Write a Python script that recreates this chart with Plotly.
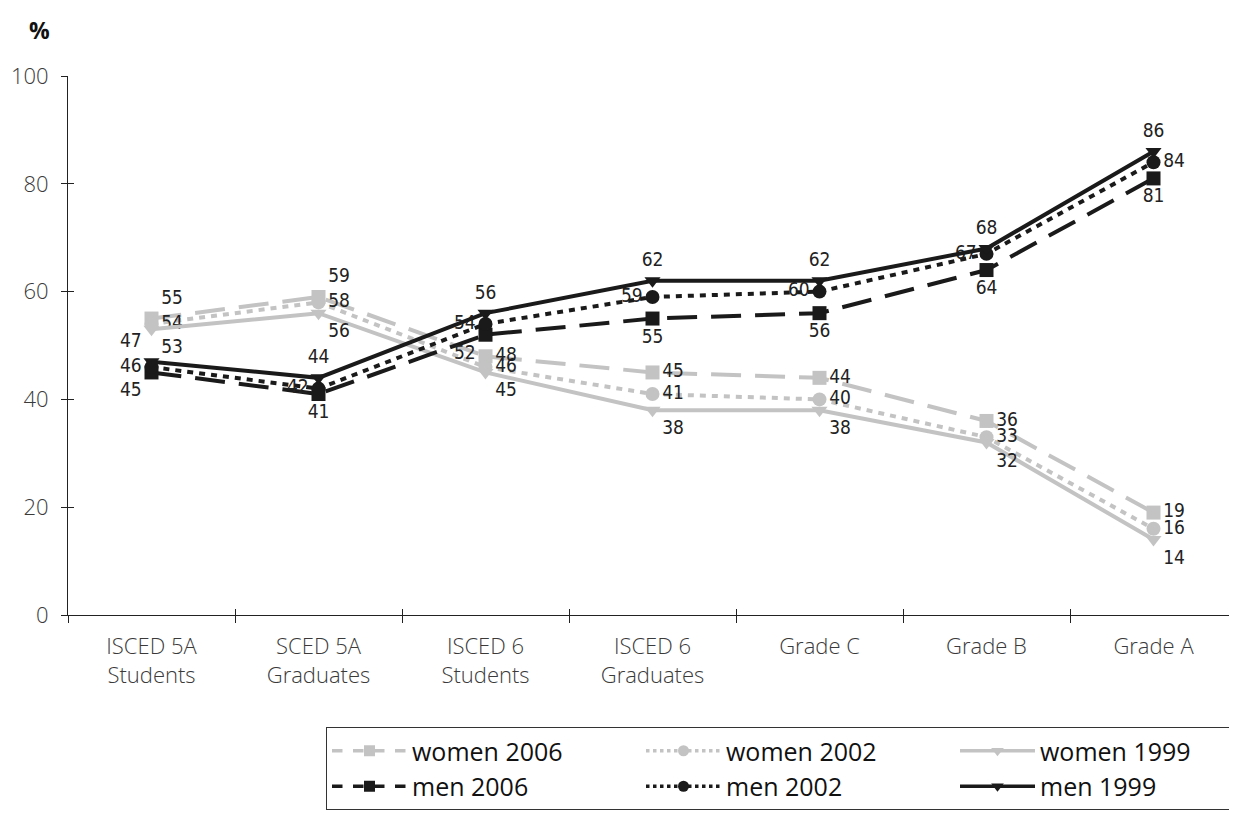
import plotly.graph_objects as go

categories = ["ISCED 5A<br>Students", "SCED 5A<br>Graduates", "ISCED 6<br>Students",
              "ISCED 6<br>Graduates", "Grade C", "Grade B", "Grade A"]

women_2006 = [55, 59, 48, 45, 44, 36, 19]
women_2002 = [54, 58, 46, 41, 40, 33, 16]
women_1999 = [53, 56, 45, 38, 38, 32, 14]
men_2006 = [45, 41, 52, 55, 56, 64, 81]
men_2002 = [46, 42, 54, 59, 60, 67, 84]
men_1999 = [47, 44, 56, 62, 62, 68, 86]

GREY = "#c3c3c3"
BLACK = "#1a1a1a"
LBL_FONT = dict(family="Liberation Sans Narrow, DejaVu Sans Condensed, Roboto, sans-serif",
                size=19, color="#222")
TICK_FONT = dict(family="Open Sans, sans-serif", size=22, color="#3a3a3a", weight=300)
DASH = "30px,14px"
DOT = "6px,6px"

series = [
    ("women 2006", women_2006, GREY, DASH, "dash", "square",
     ["top right", "top right", "middle right", "middle right", "middle right", "middle right", "middle right"]),
    ("women 2002", women_2002, GREY, DOT, "dot", "circle",
     ["middle right"] * 7),
    ("women 1999", women_1999, GREY, "solid", "solid", "triangle-down",
     ["bottom right"] * 7),
    ("men 2006", men_2006, BLACK, DASH, "dash", "square",
     ["bottom left", "bottom center", "bottom left", "bottom center", "bottom center", "bottom center", "bottom center"]),
    ("men 2002", men_2002, BLACK, DOT, "dot", "circle",
     ["middle left", "middle left", "middle left", "middle left", "middle left", "middle left", "middle right"]),
    ("men 1999", men_1999, BLACK, "solid", "solid", "triangle-down",
     ["top left", "top center", "top center", "top center", "top center", "top center", "top center"]),
]

fig = go.Figure()
for name, vals, col, dash, _, sym, pos in series:
    fig.add_trace(go.Scatter(
        x=categories, y=vals, name=name, mode="lines+markers+text",
        text=[str(v) for v in vals], textposition=pos, textfont=LBL_FONT,
        line=dict(color=col, width=4, dash=dash),
        marker=dict(symbol=sym, size=14, color=col),
        cliponaxis=False, showlegend=False,
    ))

# legend entries (no data drawn) with the short-dash look of the original key
for name, vals, col, _, ldash, sym, _ in series:
    fig.add_trace(go.Scatter(
        x=[None], y=[None], name=name, mode="lines+markers",
        line=dict(color=col, width=3.5, dash=ldash),
        marker=dict(symbol=sym, size=11, color=col), showlegend=True,
    ))

# invisible trace on overlay axes that carry the inward half of the crossing ticks
fig.add_trace(go.Scatter(x=categories, y=men_1999, xaxis="x2", yaxis="y2", mode="markers",
                         marker=dict(opacity=0), showlegend=False, hoverinfo="skip"))

fig.update_layout(
    width=1229, height=809,
    margin=dict(l=60, r=0, t=68, b=202),
    plot_bgcolor="white", paper_bgcolor="white",
    font=dict(family="Open Sans, sans-serif", color="#333"),
    showlegend=True,
    legend=dict(
        orientation="h", xref="container", yref="container",
        x=318 / 1229, xanchor="left", y=1 - 719 / 809, yanchor="top",
        bordercolor="#333", borderwidth=1, bgcolor="white",
        font=dict(family="Open Sans, sans-serif", size=25, color="#111"),
        itemwidth=75, entrywidth=224, traceorder="normal",
    ),
    annotations=[dict(text="<b>%</b>", x=-0.024, y=1.085, xref="paper", yref="paper",
                      xanchor="center", yanchor="middle", showarrow=False,
                      font=dict(size=23, color="#111", family="Open Sans, sans-serif"))],
    xaxis=dict(type="category", range=[-0.5, 6.5], showline=True, linecolor="#222",
               linewidth=1, ticks="outside", tickson="boundaries", ticklen=7,
               tickcolor="#222", showgrid=False, tickfont=TICK_FONT, automargin=False,
               ticklabelstandoff=12),
    yaxis=dict(range=[0, 100], dtick=20, showline=True, linecolor="#222", linewidth=1,
               ticks="outside", ticklen=6, tickcolor="#222", showgrid=False, zeroline=False,
               tickfont=TICK_FONT, automargin=False, ticklabelstandoff=8),
    xaxis2=dict(type="category", range=[-0.5, 6.5], overlaying="x", anchor="y2",
                showline=False, ticks="inside", tickson="boundaries", ticklen=6,
                tickcolor="#222", showgrid=False, showticklabels=False, automargin=False),
    yaxis2=dict(range=[0, 100], dtick=20, overlaying="y", anchor="x2", showline=False,
                ticks="inside", ticklen=6, tickcolor="#222", showgrid=False, zeroline=False,
                showticklabels=False, automargin=False),
)
fig.write_html("out.html")
